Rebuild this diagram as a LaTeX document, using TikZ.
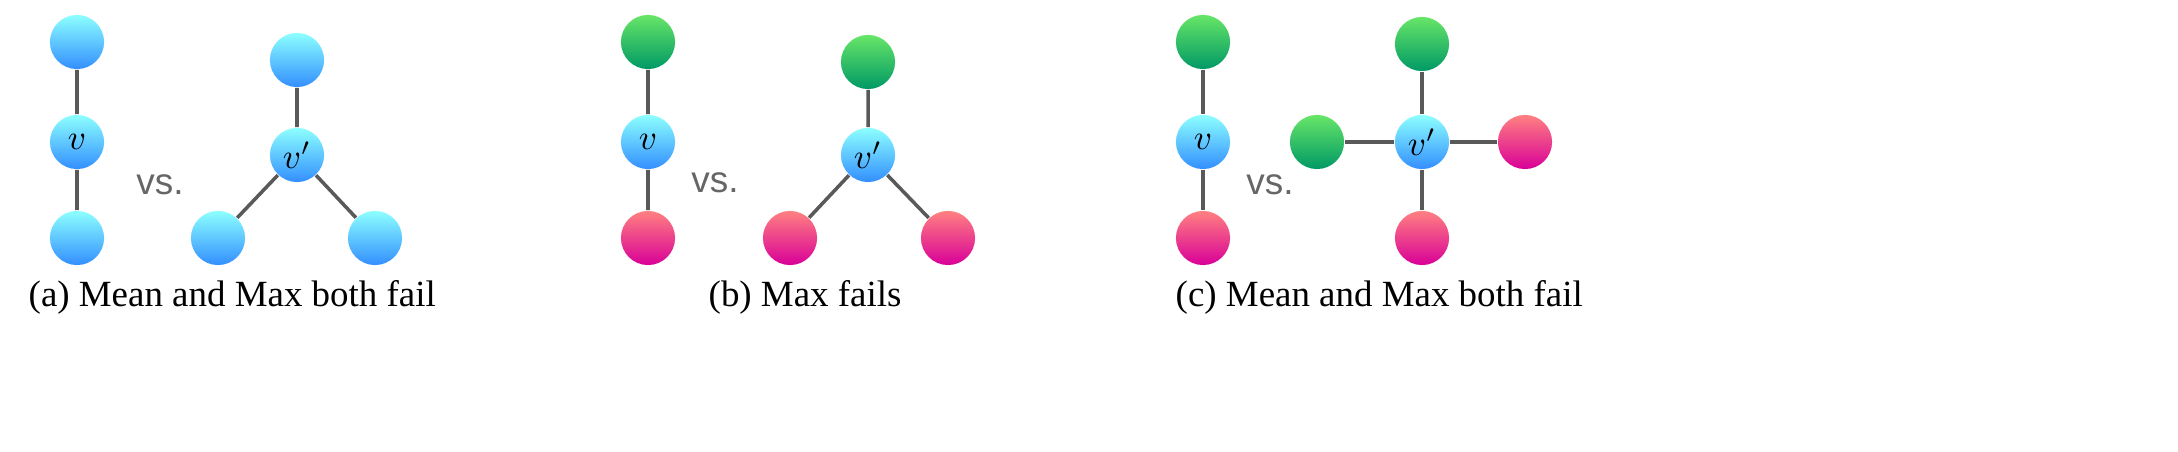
\documentclass[tikz,border=0pt]{standalone}
\usepackage{fontspec}
\setmainfont{Liberation Serif}
\newfontfamily\vsfont{Liberation Sans}
\begin{document}
\begin{tikzpicture}[x=0.01cm,y=-0.01cm,
  nd/.style={circle,minimum size=15.4pt,inner sep=0pt,font=\fontsize{10}{12}\selectfont},
  cy/.style={nd,top color=cyan!45!white,bottom color=blue!55!cyan!80!white},
  gr/.style={nd,top color=green!55!white!90!black,bottom color=teal!80!green},
  rd/.style={nd,top color=red!40!pink!90!white,bottom color=magenta!70!red!85!black},
  ed/.style={draw=black!65,line width=1pt},
  vs/.style={font=\vsfont\fontsize{10.5}{12}\selectfont,text=black!60},
  captxt/.style={font=\fontsize{10.5}{12.5}\selectfont,anchor=west,inner sep=0pt}]
\useasboundingbox (0,0) rectangle (2178,452);
\clip (0,0) rectangle (2178,452);
% (a)
\node[cy] (a1) at (77,42) {}; \node[cy] (a2) at (77,142) {$v$}; \node[cy] (a3) at (77,238) {};
\node[vs] (avs) at (160,185) {vs.};
\node[cy] (ac) at (297,155) {$v'$}; \node[cy] (at) at (297,60) {};
\node[cy] (al) at (218,238) {}; \node[cy] (ar) at (375,238) {};
\draw[ed] (a1)--(a2) (a2)--(a3) (ac)--(at) (ac)--(al) (ac)--(ar);
\node[captxt] (acap) at (28,297) {(a) Mean and Max both fail};
% (b)
\node[gr] (b1) at (648,42) {}; \node[cy] (b2) at (648,142) {$v$}; \node[rd] (b3) at (648,238) {};
\node[vs] (bvs) at (715,183) {vs.};
\node[cy] (bc) at (868,155) {$v'$}; \node[gr] (bt) at (868,62) {};
\node[rd] (bl) at (790,238) {}; \node[rd] (br) at (948,238) {};
\draw[ed] (b1)--(b2) (b2)--(b3) (bc)--(bt) (bc)--(bl) (bc)--(br);
\node[captxt] (bcap) at (708,297) {(b) Max fails};
% (c)
\node[gr] (c1) at (1203,42) {}; \node[cy] (c2) at (1203,142) {$v$}; \node[rd] (c3) at (1203,238) {};
\node[vs] (cvs) at (1270,185) {vs.};
\node[cy] (cc) at (1422,142) {$v'$}; \node[gr] (ct) at (1422,44) {};
\node[rd] (cb) at (1422,238) {}; \node[gr] (cl) at (1317,142) {}; \node[rd] (cr) at (1525,142) {};
\draw[ed] (c1)--(c2) (c2)--(c3) (cc)--(ct) (cc)--(cb) (cc)--(cl) (cc)--(cr);
\node[captxt] (ccap) at (1175,297) {(c) Mean and Max both fail};
\end{tikzpicture}
\end{document}
